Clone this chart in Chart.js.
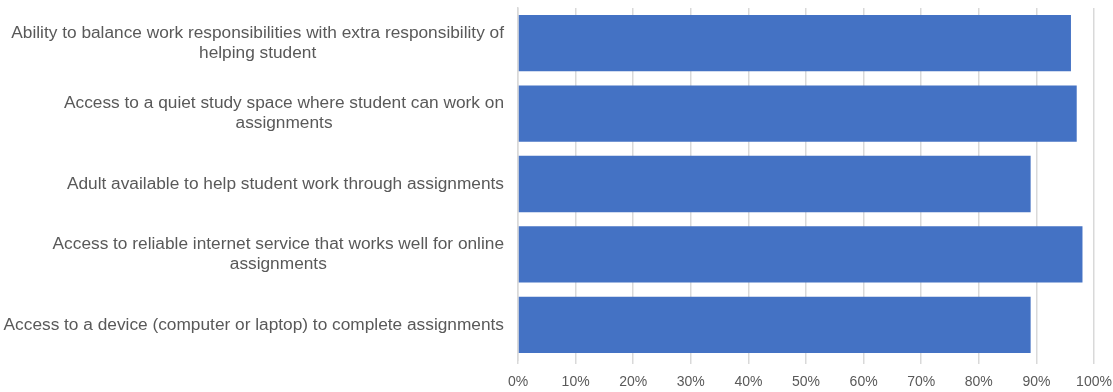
<!DOCTYPE html>
<html>
<head>
<meta charset="utf-8">
<script src="https://cdn.jsdelivr.net/npm/chart.js@4"></script>
<style>
  html, body { margin: 0; padding: 0; background: #fff; }
  #wrap { width: 1113px; height: 392px; position: relative; }
</style>
</head>
<body>
<div id="wrap"><canvas id="supportChart"></canvas></div>
<script>
// category labels, one array of lines per bar
const categories = [
  ['Ability to balance work responsibilities with extra responsibility of', 'helping student'],
  ['Access to a quiet study space where student can work on', 'assignments'],
  ['Adult available to help student work through assignments'],
  ['Access to reliable internet service that works well for online', 'assignments'],
  ['Access to a device (computer or laptop) to complete assignments'],
];
const values = [96, 97, 89, 98, 89];
const xTicks = [0, 10, 20, 30, 40, 50, 60, 70, 80, 90, 100];

const FONT = '"Liberation Sans", Arial, Helvetica, sans-serif';
const TEXT = '#595959';
const GRID = '#d9d9d9';

// y labels are drawn by hand so wrapped lines sit centred within their block
const blockLabels = {
  id: 'blockLabels',
  afterDraw(chart) {
    const { ctx, scales: { y }, chartArea } = chart;
    const rightX = chartArea.left - 14;
    const lineH = 20;
    ctx.save();
    ctx.font = `17.3px ${FONT}`;
    ctx.fillStyle = TEXT;
    ctx.textAlign = 'center';
    ctx.textBaseline = 'middle';
    categories.forEach((lines, i) => {
      const yc = y.getPixelForTick(i);
      const w = Math.max(...lines.map((l) => ctx.measureText(l).width));
      const cx = rightX - w / 2;
      lines.forEach((line, j) => {
        ctx.fillText(line, cx, yc + (j - (lines.length - 1) / 2) * lineH);
      });
    });
    ctx.restore();
  },
};

const ctx = document.getElementById('supportChart');
new Chart(ctx, {
  type: 'bar',
  data: {
    labels: categories,
    datasets: [{
      data: values,
      backgroundColor: '#4472c4',
      borderWidth: 0,
      categoryPercentage: 0.8,
      barPercentage: 1,
    }],
  },
  options: {
    indexAxis: 'y',
    responsive: true,
    maintainAspectRatio: false,
    animation: false,
    layout: { padding: { top: 8, right: 19, bottom: 0, left: 0 } },
    plugins: {
      legend: { display: false },
      tooltip: { enabled: false },
    },
    scales: {
      x: {
        min: 0,
        max: 100,
        afterBuildTicks: (scale) => {
          scale.ticks = xTicks.map((v) => ({ value: v }));
        },
        afterFit: (scale) => {
          scale.height = 32;
          scale.paddingLeft = 0;
          scale.paddingRight = 0;
        },
        ticks: {
          color: TEXT,
          font: { family: FONT, size: 14 },
          padding: 10,
          maxRotation: 0,
          callback: (v) => `${v}%`,
        },
        grid: {
          color: GRID,
          lineWidth: 1.5,
          drawTicks: true,
          tickLength: 4,
        },
        border: { display: false },
      },
      y: {
        afterFit: (scale) => { scale.width = 518; },
        ticks: { display: false },
        grid: { display: false },
        border: { display: true, color: GRID, width: 1.5 },
      },
    },
  },
  plugins: [blockLabels],
});
</script>
</body>
</html>
